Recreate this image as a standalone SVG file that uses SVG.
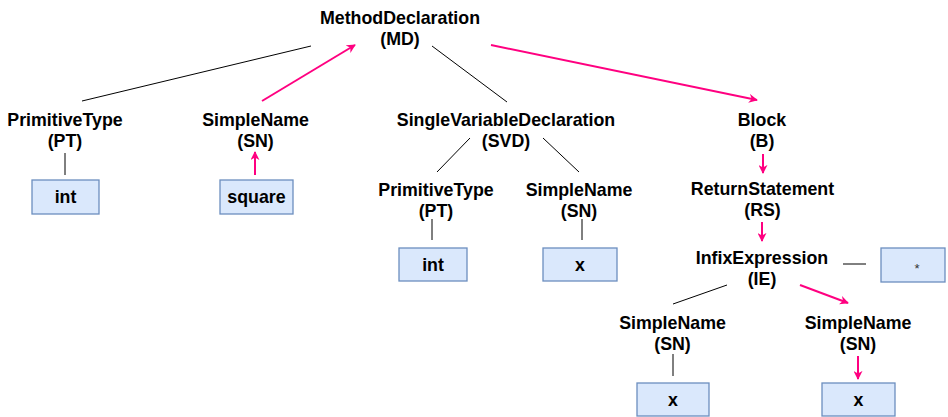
<svg xmlns="http://www.w3.org/2000/svg" width="948" height="417" viewBox="0 0 948 417">
<defs>
<marker id="ah" viewBox="0 0 10 10" refX="9" refY="5" markerWidth="4.5" markerHeight="4.5" orient="auto" markerUnits="strokeWidth">
<path d="M0,0 L10,5 L0,10 L3,5 Z" fill="#ff0080"/>
</marker>
<style>
.t{font-family:"Liberation Sans",Arial,sans-serif;font-weight:bold;font-size:17.8px;fill:#000;text-anchor:middle}
.b{fill:#dae8fc;stroke:#6c8ebf;stroke-width:1.3}
.k{stroke:#000;stroke-width:1;fill:none}
.p{stroke:#ff0080;stroke-width:2;fill:none;marker-end:url(#ah)}
.s{font-family:"Liberation Sans",Arial,sans-serif;font-size:13px;fill:#333;text-anchor:middle}
</style>
</defs>
<rect width="948" height="417" fill="#fff"/>
<g id="connectors">
<line class="k" x1="311" y1="46" x2="82" y2="101"/>
<line class="p" x1="262" y1="101" x2="355" y2="45"/>
<line class="k" x1="432" y1="46" x2="507" y2="102"/>
<line class="p" x1="491" y1="45" x2="757" y2="100"/>
<line class="k" x1="65" y1="153" x2="65" y2="175"/>
<line class="p" x1="255" y1="175" x2="255" y2="152"/>
<line class="k" x1="470" y1="138" x2="437" y2="172"/>
<line class="k" x1="543" y1="138" x2="579" y2="172"/>
<line class="k" x1="432" y1="219" x2="432" y2="240"/>
<line class="k" x1="582" y1="219" x2="582" y2="240"/>
<line class="p" x1="763" y1="154" x2="763" y2="173"/>
<line class="p" x1="762" y1="222" x2="762" y2="241"/>
<line class="k" x1="843" y1="264" x2="866" y2="264"/>
<line class="k" x1="727" y1="285" x2="673" y2="304"/>
<line class="p" x1="800" y1="285" x2="848" y2="303"/>
<line class="k" x1="673" y1="354" x2="673" y2="376"/>
<line class="p" x1="858" y1="356" x2="858" y2="379"/>
</g>
<g id="md"><text class="t" x="400" y="24">MethodDeclaration</text><text class="t" x="400" y="45">(MD)</text></g>
<g id="pt1"><text class="t" x="65" y="126">PrimitiveType</text><text class="t" x="65" y="147">(PT)</text></g>
<g id="int1"><rect class="b" x="32" y="180" width="67" height="34"/><text class="t" x="65.5" y="203">int</text></g>
<g id="sn1"><text class="t" x="255.5" y="126">SimpleName</text><text class="t" x="255.5" y="147">(SN)</text></g>
<g id="square"><rect class="b" x="220" y="180" width="73" height="34"/><text class="t" x="256.5" y="203">square</text></g>
<g id="svd"><text class="t" x="506" y="126">SingleVariableDeclaration</text><text class="t" x="506" y="147">(SVD)</text></g>
<g id="pt2"><text class="t" x="436" y="196">PrimitiveType</text><text class="t" x="436" y="217">(PT)</text></g>
<g id="int2"><rect class="b" x="399" y="248" width="68" height="33"/><text class="t" x="433" y="271">int</text></g>
<g id="sn2"><text class="t" x="579" y="196">SimpleName</text><text class="t" x="579" y="217">(SN)</text></g>
<g id="x1"><rect class="b" x="543" y="248" width="74" height="33"/><text class="t" x="580" y="271">x</text></g>
<g id="block"><text class="t" x="762" y="126">Block</text><text class="t" x="762" y="147">(B)</text></g>
<g id="rs"><text class="t" x="762.5" y="195">ReturnStatement</text><text class="t" x="762.5" y="216">(RS)</text></g>
<g id="ie"><text class="t" x="762" y="264">InfixExpression</text><text class="t" x="762" y="285">(IE)</text></g>
<g id="star"><rect class="b" x="881" y="248" width="64" height="34"/><text class="s" x="917" y="273">*</text></g>
<g id="sn3"><text class="t" x="672.5" y="329">SimpleName</text><text class="t" x="672.5" y="350">(SN)</text></g>
<g id="x2"><rect class="b" x="637" y="383" width="72" height="33"/><text class="t" x="673" y="406">x</text></g>
<g id="sn4"><text class="t" x="858" y="329">SimpleName</text><text class="t" x="858" y="350">(SN)</text></g>
<g id="x3"><rect class="b" x="822" y="383" width="73" height="33"/><text class="t" x="858.5" y="406">x</text></g>
</svg>
